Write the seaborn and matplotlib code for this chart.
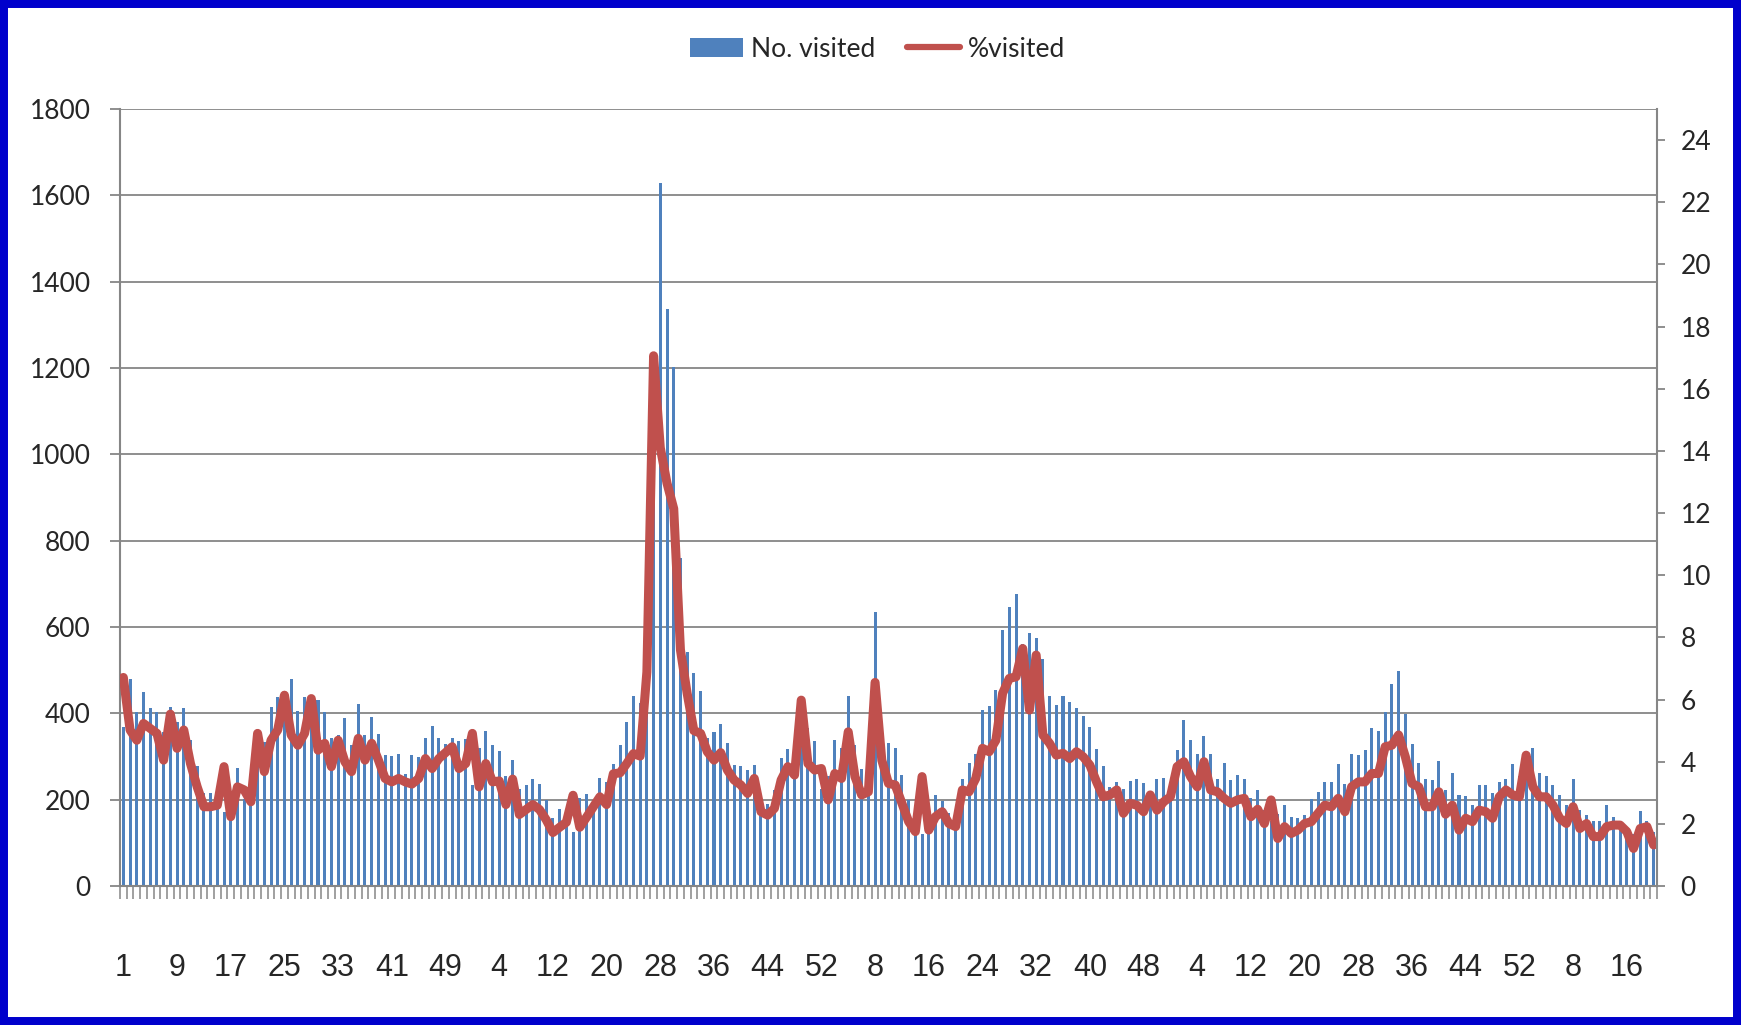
import numpy as np
import matplotlib
matplotlib.use("Agg")
import matplotlib.pyplot as plt
import seaborn as sns
from matplotlib.patches import Patch, Rectangle
from matplotlib.lines import Line2D

# week numbers: 53 + 52 + 52 + 52 + 20 weeks
weeks = list(range(1, 54)) + list(range(1, 53)) * 3 + list(range(1, 21))

no_visited = [
    369, 479, 403, 449, 412, 403, 357, 415, 380, 412, 338, 278, 215, 216, 184, 171, 175, 273, 202, 200,
    340, 333, 415, 438, 440, 479, 405, 438, 400, 431, 403, 343, 350, 389, 327, 421, 350, 391, 352, 303,
    301, 306, 260, 303, 299, 343, 371, 343, 330, 343, 336, 340, 234, 320, 359, 327, 312, 254, 293, 224,
    235, 249, 237, 200, 157, 179, 160, 126, 204, 212, 190, 251, 242, 282, 326, 381, 439, 425, 560, 1000,
    1629, 1336, 1202, 759, 542, 493, 452, 343, 357, 375, 331, 280, 278, 269, 280, 211, 190, 222, 296, 317,
    300, 380, 366, 336, 225, 255, 338, 320, 440, 327, 271, 220, 635, 335, 331, 320, 257, 199, 150, 120,
    165, 211, 197, 169, 150, 248, 285, 306, 408, 417, 454, 593, 646, 676, 560, 586, 574, 526, 440, 419,
    440, 426, 412, 394, 368, 317, 278, 229, 241, 224, 243, 248, 239, 215, 248, 250, 240, 315, 384, 338,
    306, 347, 306, 248, 285, 245, 257, 248, 204, 222, 175, 150, 167, 188, 160, 157, 165, 201, 218, 241,
    241, 283, 236, 306, 303, 315, 366, 359, 403, 468, 498, 398, 329, 285, 248, 245, 290, 222, 262, 210,
    208, 188, 234, 234, 215, 241, 248, 283, 255, 290, 320, 262, 255, 234, 211, 188, 248, 176, 164, 151,
    151, 188, 160, 150, 137, 121, 174, 150, 125,
]

pct_visited = [
    6.71, 5.02, 4.69, 5.23, 5.07, 4.91, 4.05, 5.53, 4.43, 5.02, 3.94, 3.19, 2.55, 2.55, 2.60, 3.84, 2.23, 3.19, 3.09, 2.71,
    4.91, 3.68, 4.69, 5.02, 6.14, 4.86, 4.53, 4.91, 6.03, 4.37, 4.59, 3.84, 4.69, 4.00, 3.68, 4.75, 4.05, 4.59, 4.05, 3.46,
    3.35, 3.46, 3.35, 3.28, 3.46, 4.10, 3.78, 4.10, 4.29, 4.48, 3.78, 3.94, 4.91, 3.19, 3.94, 3.35, 3.38, 2.62, 3.44, 2.30,
    2.46, 2.62, 2.46, 2.13, 1.72, 1.89, 2.05, 2.92, 1.89, 2.21, 2.54, 2.87, 2.62, 3.61, 3.64, 3.94, 4.26, 4.18, 6.89, 17.06,
    14.10, 12.96, 12.14, 7.60, 6.20, 5.00, 4.91, 4.32, 4.05, 4.29, 3.73, 3.41, 3.25, 2.98, 3.46, 2.39, 2.28, 2.50, 3.41, 3.84,
    3.57, 5.98, 3.94, 3.73, 3.78, 2.77, 3.62, 3.46, 4.96, 3.52, 2.93, 3.03, 6.55, 4.05, 3.30, 3.25, 2.66, 2.07, 1.75, 3.52,
    1.80, 2.23, 2.39, 2.01, 1.91, 3.09, 3.03, 3.46, 4.43, 4.32, 4.69, 6.20, 6.68, 6.73, 7.64, 5.66, 7.43, 4.86, 4.59, 4.21,
    4.27, 4.10, 4.32, 4.16, 3.89, 3.35, 2.87, 2.93, 3.09, 2.34, 2.66, 2.60, 2.39, 2.93, 2.44, 2.71, 2.87, 3.84, 4.00, 3.52,
    3.19, 4.00, 3.09, 3.03, 2.82, 2.66, 2.77, 2.82, 2.23, 2.47, 2.01, 2.77, 1.53, 1.91, 1.69, 1.80, 2.01, 2.07, 2.34, 2.60,
    2.55, 2.82, 2.39, 3.19, 3.35, 3.35, 3.62, 3.62, 4.48, 4.53, 4.86, 4.16, 3.30, 3.19, 2.55, 2.55, 3.03, 2.31, 2.60, 1.80,
    2.18, 2.07, 2.44, 2.39, 2.18, 2.87, 3.09, 2.93, 2.87, 4.21, 3.19, 2.87, 2.87, 2.60, 2.18, 2.01, 2.55, 1.85, 2.01, 1.59,
    1.59, 1.91, 1.96, 1.96, 1.75, 1.21, 1.85, 1.91, 1.32,
]

bar_color = "#4F81BD"
line_color = "#C0504D"
grid_color = "#868686"

sns.set_theme(style="white")
plt.rcParams["font.family"] = ["Lato", "DejaVu Sans"]

idx = np.arange(len(weeks))

fig = plt.figure(figsize=(17.41, 10.25), dpi=100)
ax = fig.add_axes([120 / 1741, 1 - 886 / 1025, (1657 - 120) / 1741, (886 - 109) / 1025])
ax2 = ax.twinx()

sns.barplot(x=idx, y=no_visited, color=bar_color, saturation=1, width=0.45, linewidth=0,
            ax=ax, zorder=2)
sns.lineplot(x=idx, y=pct_visited, color=line_color, linewidth=6.5, ax=ax2,
             solid_joinstyle="round", solid_capstyle="round")

ax.set_xlim(-0.5, len(weeks) - 0.5)
ax.set_ylim(0, 1800)
ax2.set_ylim(0, 25)
ax.set_yticks(range(0, 1801, 200))
ax2.set_yticks(range(0, 25, 2))

ax.yaxis.grid(True, color=grid_color, linewidth=1.3)
ax.set_axisbelow(True)

ax.set_xticks(idx[::8])
ax.set_xticklabels([str(weeks[i]) for i in idx[::8]], family=["Liberation Sans", "DejaVu Sans"], fontsize=22)
ax.set_xticks(np.arange(-0.5, len(weeks), 1), minor=True)
ax.tick_params(axis="x", which="major", bottom=True, length=0, pad=48)
ax.tick_params(axis="x", which="minor", bottom=True, length=9.5, width=1.1, color=grid_color, direction="out")
ax.tick_params(axis="y", length=7, width=1.3, color=grid_color, pad=14, labelsize=19, left=True)
ax2.tick_params(axis="y", length=6, width=1.3, color=grid_color, pad=11, labelsize=19, right=True)

ax.set_xlabel("")
ax.set_ylabel("")
ax2.set_ylabel("")

for a in (ax, ax2):
    for side in ("top", "left", "right", "bottom"):
        a.spines[side].set_visible(False)
ax.spines["left"].set_visible(True)
ax.spines["bottom"].set_visible(True)
ax2.spines["right"].set_visible(True)
for sp in (ax.spines["left"], ax.spines["bottom"], ax2.spines["right"]):
    sp.set_color(grid_color)
    sp.set_linewidth(1.5)

handles = [Patch(facecolor=bar_color, edgecolor="none"),
           Line2D([0], [0], color=line_color, linewidth=4.5, solid_capstyle="round")]
fig.legend(handles, ["No. visited", "%visited"], loc="center", bbox_to_anchor=(0.504, 0.952),
           ncol=2, frameon=False, fontsize=19, handlelength=2.0, handleheight=0.75,
           handletextpad=0.3, columnspacing=1.2)

fig.patches.append(Rectangle((0, 0), 1, 1, transform=fig.transFigure, fill=False,
                             edgecolor="#0000CC", linewidth=11.5, zorder=10))

fig.savefig("out.png", dpi=100)
